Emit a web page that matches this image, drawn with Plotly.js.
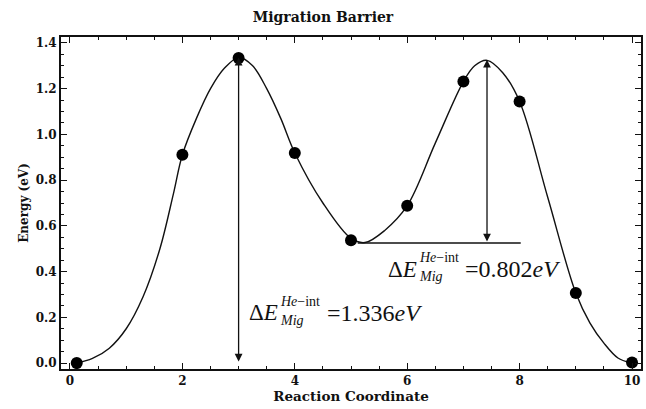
<!DOCTYPE html>
<html>
<head>
<meta charset="utf-8">
<script src="https://cdn.plot.ly/plotly-3.0.1.min.js"></script>
<style>html,body{margin:0;padding:0;background:#fff;}#chart{width:646px;height:409px;}</style>
</head>
<body>
<div id="chart"></div>
<script>
// Computed NEB images (reaction coordinate vs energy, eV)
const imageX = [0.12, 2, 3, 4, 5, 6, 7, 8, 9, 10];
const imageE = [0.0, 0.911, 1.334, 0.919, 0.537, 0.688, 1.231, 1.144, 0.306, 0.002];

// Smooth fitted curve
const curveX = [0.12, 0.4, 0.7, 1.0, 1.3, 1.6, 1.84, 2, 2.25, 2.5, 2.75, 3, 3.25, 3.5, 3.75, 4, 4.5, 5, 5.25, 5.6, 6, 6.5, 7, 7.2, 7.42, 7.7, 8, 8.5, 9, 9.25, 9.5, 9.75, 9.97];
const curveE = [0.0, 0.02, 0.065, 0.15, 0.29, 0.50, 0.74, 0.911, 1.07, 1.2, 1.29, 1.336, 1.30, 1.20, 1.07, 0.919, 0.70, 0.545, 0.527, 0.58, 0.688, 0.962, 1.231, 1.30, 1.324, 1.27, 1.144, 0.725, 0.306, 0.176, 0.087, 0.022, 0.002];

// Barrier annotations
const barrier1 = {x: 3, base: 0.0, value: 1.336};
const barrier2 = {x: 7.42, base: 0.525, value: 0.802};
const baseLineX = [5.12, 8.02];
const xTicks = [0, 2, 4, 6, 8, 10];
const yTicks = [0.0, 0.2, 0.4, 0.6, 0.8, 1.0, 1.2, 1.4];
const yTickText = ['0.0', '0.2', '0.4', '0.6', '0.8', '1.0', '1.2', '1.4'];

const serif = 'Liberation Serif, Times New Roman, serif';
const wide = 'DejaVu Serif, serif';

const traces = [
  {x: curveX, y: curveE, mode: 'lines', line: {color: '#111', width: 1.4, shape: 'spline', smoothing: 1.0}, hoverinfo: 'skip'},
  {x: baseLineX, y: [barrier2.base, barrier2.base], mode: 'lines', line: {color: '#111', width: 1.4}, hoverinfo: 'skip'},
  {x: imageX, y: imageE, mode: 'markers', marker: {color: '#000', size: 12}}
];

function eqn(x0, y0, value) {
  return [
    {x: x0, y: y0, xref: 'x', yref: 'y', xanchor: 'left', yanchor: 'middle', showarrow: false,
     text: 'Δ<i>E</i>', font: {family: serif, size: 23, color: '#111'}},
    {x: x0 + 0.55, y: y0 + 0.05, xref: 'x', yref: 'y', xanchor: 'left', yanchor: 'middle', showarrow: false,
     text: '<i>He</i>−int', font: {family: serif, size: 14, color: '#111'}},
    {x: x0 + 0.55, y: y0 - 0.032, xref: 'x', yref: 'y', xanchor: 'left', yanchor: 'middle', showarrow: false,
     text: '<i>Mig</i>', font: {family: serif, size: 14, color: '#111'}},
    {x: x0 + 1.38, y: y0, xref: 'x', yref: 'y', xanchor: 'left', yanchor: 'middle', showarrow: false,
     text: '=' + value.toFixed(3) + '<i>eV</i>', font: {family: serif, size: 24, color: '#111'}}
  ];
}

function arrow(b) {
  return {x: b.x, y: b.base + b.value, ax: b.x, ay: b.base, xref: 'x', yref: 'y', axref: 'x', ayref: 'y',
    showarrow: true, arrowhead: 2, startarrowhead: 2, arrowside: 'end+start', arrowsize: 1.2, startarrowsize: 1.2,
    arrowwidth: 1.3, arrowcolor: '#111', standoff: 0, startstandoff: 0, text: ''};
}

const ann = [arrow(barrier1), arrow(barrier2)]
  .concat(eqn(3.15, 0.22, barrier1.value))
  .concat(eqn(5.62, 0.41, barrier2.value));

const axisCommon = {
  showline: true, linecolor: '#111', linewidth: 2, mirror: 'allticks',
  ticks: 'inside', ticklen: 6, tickwidth: 1, tickcolor: '#111',
  showgrid: false, zeroline: false,
  tickfont: {family: wide, size: 12, color: '#111'}
};

const layout = {
  width: 646, height: 409,
  margin: {l: 61, r: 5, t: 37, b: 40},
  paper_bgcolor: '#fff', plot_bgcolor: '#fff',
  showlegend: false,
  title: {text: '<b>Migration Barrier</b>', font: {family: wide, size: 14, color: '#111'}, x: 0.5, xanchor: 'center', y: 0.958, yanchor: 'middle'},
  xaxis: Object.assign({}, axisCommon, {
    range: [-0.16, 10.16], tickvals: xTicks, ticktext: xTicks.map(function (v) { return '<b>' + v + '</b>'; }),
    minor: {dtick: 0.5, ticks: 'inside', ticklen: 3, tickcolor: '#111', showgrid: false},
    title: {text: '<b>Reaction Coordinate</b>', font: {family: wide, size: 13.5, color: '#111'}, standoff: 3}
  }),
  yaxis: Object.assign({}, axisCommon, {
    range: [-0.026, 1.426], tickvals: yTicks, ticktext: yTickText.map(function (v) { return '<b>' + v + '</b>'; }),
    minor: {dtick: 0.05, ticks: 'inside', ticklen: 3, tickcolor: '#111', showgrid: false},
    title: {text: '<b>Energy (eV)</b>', font: {family: wide, size: 12, color: '#111'}, standoff: 5}
  }),
  annotations: ann
};

Plotly.newPlot('chart', traces, layout, {displayModeBar: false, staticPlot: true});
</script>
</body>
</html>
